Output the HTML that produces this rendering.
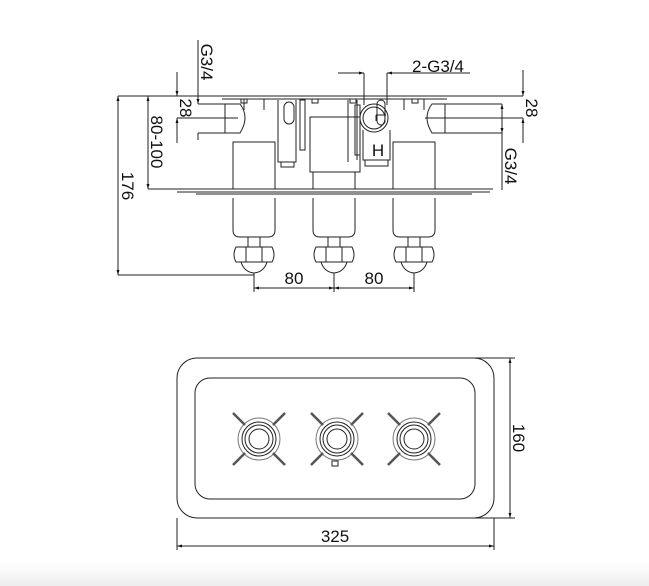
<!DOCTYPE html>
<html><head><style>
html,body{margin:0;padding:0;background:#fff;}
svg{display:block;}
text{font-family:"Liberation Sans",sans-serif;font-size:17px;fill:#111;}
</style></head><body>
<svg width="649" height="586" viewBox="0 0 649 586" xmlns="http://www.w3.org/2000/svg">
<defs>
<linearGradient id="g" x1="0" y1="0" x2="0" y2="1"><stop offset="0" stop-color="#fff"/><stop offset="1" stop-color="#eee"/></linearGradient>
<marker id="a" viewBox="0 0 10 10" refX="10" refY="5" markerWidth="8" markerHeight="5" orient="auto-start-reverse"><path d="M0,2 L10,5 L0,8 z" fill="#111"/></marker>
</defs>
<rect x="0" y="562" width="649" height="24" fill="url(#g)"/>
<g fill="none" stroke="#222" stroke-width="1">
<!-- top plate -->
<line x1="118" y1="96" x2="523" y2="96"/>
<line x1="222" y1="99" x2="447" y2="99"/>
<!-- bottom plate -->
<line x1="148" y1="189" x2="493" y2="189"/>
<line x1="177" y1="192" x2="490" y2="192"/>
<line x1="196" y1="194" x2="472" y2="194"/>
<!-- left outlet -->
<path d="M198,104 H225 V133 H198"/>
<path d="M225,104 H240 Q250,117 240,133 H225"/>
<line x1="205" y1="118" x2="238" y2="118"/>
<!-- right outlet -->
<path d="M502,104 H445 V133 H502"/>
<path d="M445,104 H432 Q422,117 432,133 H445"/>
<line x1="425" y1="118" x2="470" y2="118"/>
<!-- valve bodies -->
<rect x="233" y="142" width="42" height="47"/>
<rect x="393" y="142" width="42" height="47"/>
<path d="M244,99 V110 M264,99 V110 M424,99 V110 M404,99 V110"/>
<rect x="310" y="117" width="50" height="55"/>
<rect x="313" y="172" width="42" height="17"/>
<path d="M278,100 V162 H296 V100"/>
<path d="M348,100 V162 M357,100 V160"/>
<rect x="284" y="102" width="10" height="22" rx="5"/>
<rect x="300" y="100" width="5" height="50"/>
<rect x="355" y="105" width="5" height="50"/>
<rect x="377" y="100" width="8" height="25" rx="4"/>
<path d="M363,130 V160 H390 V130"/>
<path d="M281,162 V167 H294 V162 M365,160 V166 H388 V160"/>
<rect x="241" y="99" width="6" height="4"/><rect x="312" y="99" width="6" height="4"/><rect x="350" y="99" width="6" height="4"/><rect x="412" y="99" width="6" height="4"/>
<line x1="364" y1="73" x2="364" y2="105"/><line x1="387" y1="73" x2="387" y2="105"/>
<circle cx="374" cy="118" r="14"/><circle cx="374" cy="118" r="11"/>
<path d="M376,115 H386"/><path d="M376,115 V121"/>
<!-- cartridges + handles -->
<g id="h">
<path d="M233,198 V230 Q233,237 240,237 H268 Q275,237 275,230 V198"/>
<rect x="248" y="237" width="12" height="10"/>
<path d="M236,247 Q232,255 236,262 H272 Q276,255 272,247 Z"/>
<path d="M246,247 V262 M262,247 V262"/>
<path d="M241,262 Q244,272 254,273 Q264,272 267,262"/>
</g>
<use href="#h" x="80"/><use href="#h" x="160"/>
<!-- dims left -->
<line x1="118" y1="96" x2="118" y2="275" marker-start="url(#a)" marker-end="url(#a)"/>
<line x1="118" y1="275" x2="254" y2="275"/>
<line x1="148" y1="96" x2="148" y2="189" marker-start="url(#a)" marker-end="url(#a)"/>
<line x1="177" y1="72" x2="177" y2="96" marker-end="url(#a)"/>
<line x1="177" y1="118" x2="177" y2="143" marker-start="url(#a)"/>
<line x1="177" y1="118" x2="205" y2="118"/>
<line x1="198" y1="40" x2="198" y2="104" marker-end="url(#a)"/>
<line x1="198" y1="133" x2="198" y2="140"/>
<!-- dims right -->
<line x1="523" y1="70" x2="523" y2="96" marker-end="url(#a)"/>
<line x1="523" y1="118" x2="523" y2="143" marker-start="url(#a)"/>
<line x1="470" y1="118" x2="523" y2="118"/>
<line x1="502" y1="104" x2="502" y2="190"/>
<line x1="502" y1="114" x2="502" y2="104" marker-end="url(#a)"/>
<line x1="502" y1="123" x2="502" y2="133" marker-end="url(#a)"/>
<!-- 2-G3/4 -->
<line x1="338" y1="73" x2="364" y2="73" marker-end="url(#a)"/>
<line x1="470" y1="73" x2="387" y2="73" marker-end="url(#a)"/>
<!-- 80 dims -->
<line x1="254" y1="273" x2="254" y2="292"/><line x1="334" y1="273" x2="334" y2="292"/><line x1="414" y1="273" x2="414" y2="292"/>
<line x1="254" y1="288" x2="334" y2="288" marker-start="url(#a)" marker-end="url(#a)"/>
<line x1="334" y1="288" x2="414" y2="288" marker-start="url(#a)" marker-end="url(#a)"/>
<!-- front view -->
<rect x="177" y="358" width="317" height="160" rx="20"/>
<rect x="195" y="378" width="280" height="121" rx="15"/>
<g id="k">
<circle cx="259" cy="439" r="21" stroke="#777"/><circle cx="259" cy="439" r="17"/><circle cx="259" cy="439" r="14"/><circle cx="259" cy="439" r="10"/>
<path d="M233,413 L245,425 M285,413 L273,425 M233,465 L245,453 M285,465 L273,453" stroke-width="2.5" stroke="#555"/>
</g>
<use href="#k" x="78"/><use href="#k" x="155"/>
<rect x="332" y="461" width="6" height="5"/>
<line x1="177" y1="518" x2="177" y2="550"/><line x1="494" y1="518" x2="494" y2="550"/>
<line x1="177" y1="546" x2="494" y2="546" marker-start="url(#a)" marker-end="url(#a)"/>
<line x1="474" y1="358" x2="515" y2="358"/><line x1="474" y1="518" x2="515" y2="518"/>
<line x1="510" y1="358" x2="510" y2="518" marker-start="url(#a)" marker-end="url(#a)"/>
</g>
<text x="378" y="156" font-size="13" text-anchor="middle">H</text>
<text x="294" y="284" text-anchor="middle">80</text>
<text x="374" y="284" text-anchor="middle">80</text>
<text x="412" y="72">2-G3/4</text>
<text x="335" y="542" text-anchor="middle">325</text>
<text transform="translate(513,438) rotate(90)" text-anchor="middle">160</text>
<text transform="translate(122,186) rotate(90)" text-anchor="middle">176</text>
<text transform="translate(151,142) rotate(90)" text-anchor="middle">80-100</text>
<text transform="translate(180,108) rotate(90)" text-anchor="middle">28</text>
<text transform="translate(201,62) rotate(90)" text-anchor="middle">G3/4</text>
<text transform="translate(526,108) rotate(90)" text-anchor="middle">28</text>
<text transform="translate(505,166) rotate(90)" text-anchor="middle">G3/4</text>
</svg>
</body></html>
